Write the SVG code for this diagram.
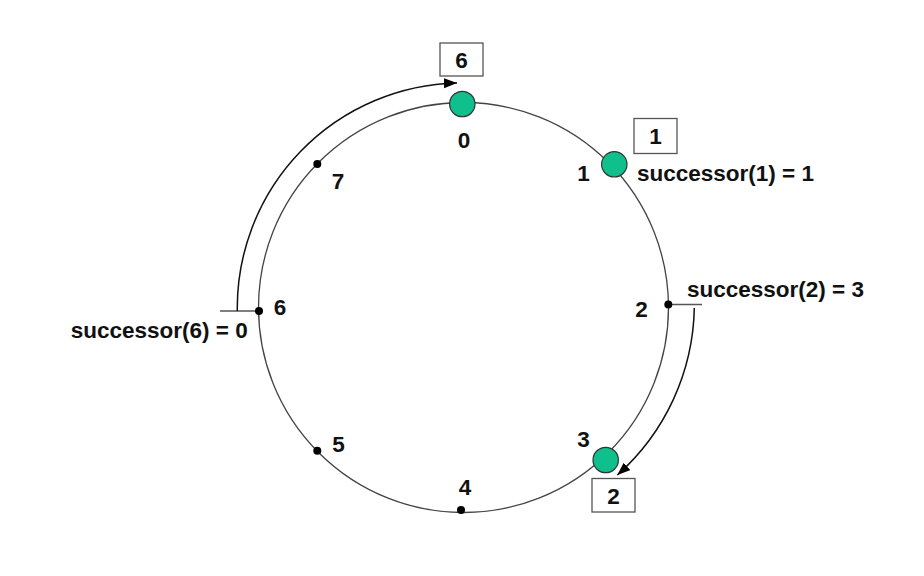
<svg xmlns="http://www.w3.org/2000/svg" width="924" height="576" viewBox="0 0 924 576">
<style>
text{font-family:"Liberation Sans",Arial,sans-serif;font-weight:bold;font-size:22.5px;fill:#111}
.mid{text-anchor:middle}
.ring{fill:none;stroke:#444;stroke-width:1.3}
.arc{fill:none;stroke:#111;stroke-width:1.5}
.tick{fill:none;stroke:#555;stroke-width:1.3}
.box{fill:#fff;stroke:#555;stroke-width:1.3}
.peer{fill:#0fc08d;stroke:#333;stroke-width:1.2}
.dot{fill:#000}
</style>
<defs>
<marker id="ah" markerUnits="userSpaceOnUse" markerWidth="15" markerHeight="11" refX="13" refY="5" orient="auto">
<path d="M0,0 L13,5 L0,10 z" fill="#000"/>
</marker>
</defs>
<rect width="924" height="576" fill="#fff"/>
<g id="ring"><circle class="ring" cx="463.5" cy="307.5" r="205"/></g>
<g id="connectors">
<path class="tick" d="M220,311 L259,311"/>
<path class="arc" d="M237.3,311 A225,225 0 0 1 457,83" marker-end="url(#ah)"/>
<path class="tick" d="M668,304.5 L702,304.5"/>
<path class="arc" d="M694.3,308 A229,229 0 0 1 617.3,475" marker-end="url(#ah)"/>
</g>
<g id="node0"><circle class="peer" cx="462.3" cy="104" r="12.7"/><text class="mid" x="464" y="148">0</text></g>
<g id="node1"><circle class="peer" cx="614.3" cy="164.3" r="12.7"/><text class="mid" x="583.5" y="181">1</text></g>
<g id="node2"><circle class="dot" cx="668.3" cy="304.5" r="4"/><text class="mid" x="641.5" y="317">2</text></g>
<g id="node3"><circle class="peer" cx="605.7" cy="460" r="12.7"/><text class="mid" x="583.5" y="447">3</text></g>
<g id="node4"><circle class="dot" cx="461" cy="510" r="4"/><text class="mid" x="465" y="495">4</text></g>
<g id="node5"><circle class="dot" cx="317.3" cy="450.7" r="4"/><text class="mid" x="338.5" y="452">5</text></g>
<g id="node6"><circle class="dot" cx="259" cy="311" r="4"/><text class="mid" x="280" y="315">6</text></g>
<g id="node7"><circle class="dot" cx="317.3" cy="164" r="4"/><text class="mid" x="338" y="189">7</text></g>
<g id="key6"><rect class="box" x="440" y="43" width="43" height="33"/><text class="mid" x="461.5" y="68">6</text></g>
<g id="key1"><rect class="box" x="634" y="118.5" width="43" height="35"/><text class="mid" x="655.5" y="143.5">1</text></g>
<g id="key2"><rect class="box" x="592" y="478.5" width="43" height="33.5"/><text class="mid" x="613.5" y="503.5">2</text></g>
<g id="labels">
<text x="637" y="181">successor(1) = 1</text>
<text x="687" y="297">successor(2) = 3</text>
<text x="70.7" y="338.3">successor(6) = 0</text>
</g>
</svg>
